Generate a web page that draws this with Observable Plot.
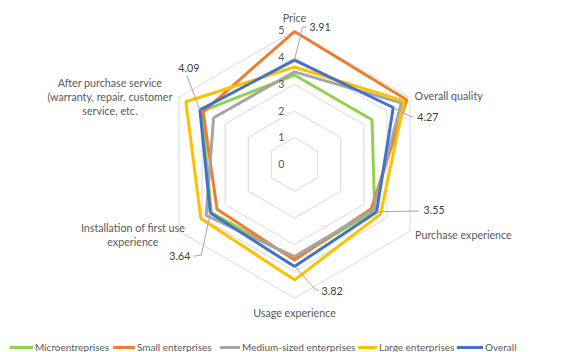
<!DOCTYPE html>
<html><head><meta charset="utf-8">
<script src="https://cdn.jsdelivr.net/npm/d3@7"></script>
<script src="https://cdn.jsdelivr.net/npm/@observablehq/plot@0.6"></script>
<style>
body{margin:0;background:#fff;font-family:Lato,"Open Sans",sans-serif;}
#chart{position:absolute;left:0;top:0;}
#legend{position:absolute;left:0;top:341px;width:586px;height:12px;font-size:10px;color:#595959;}
.item{position:absolute;top:0;display:flex;align-items:center;white-space:nowrap;line-height:12px}
.sw{display:inline-block;height:3px;margin-right:2px}
</style></head><body>
<div id="chart"></div><div id="legend"></div>
<script>
// ---- data ----
const axes = ["Price", "Overall quality", "Purchase experience", "Usage experience",
  "Installation of first use\nexperience", "After purchase service\n(warranty, repair, customer\nservice, etc."];
const seriesNames = ["Microentreprises", "Small enterprises", "Medium-sized enterprises", "Large enterprises", "Overall"];
const micro   = [3.35, 3.35, 3.47, 3.52, 3.60, 4.00];
const small   = [4.98, 4.85, 3.32, 3.58, 3.35, 3.95];
const medium  = [3.47, 4.62, 3.40, 3.45, 3.82, 3.50];
const large   = [3.65, 4.75, 3.72, 4.32, 4.05, 4.70];
const overall = [3.91, 4.27, 3.55, 3.82, 3.64, 4.09];
const ticks = [0, 1, 2, 3, 4, 5];
const colors = ["#92D050", "#ED7D31", "#A5A5A5", "#FFC000", "#4472C4"];

// ---- layout ----
const W = 586, H = 340, cx = 294, cy = 164, k = 26.7;
const n = axes.length;
const ang = i => (i / n) * 2 * Math.PI;
const px = (r, i) => r * Math.sin(ang(i));
const py = (r, i) => r * Math.cos(ang(i));
const rMax = d3.max(ticks);

const seriesVals = [micro, small, medium, large, overall];
const rows = seriesNames.flatMap((s, si) => seriesVals[si].map((v, i) => ({s, i, v})));
const rings = ticks.slice(1).flatMap(r => axes.map((a, i) => ({r, i})));

// category label placement (pixel offsets from outer vertex)
const catPos = [
  {dx: 0, dy: -13.5, anchor: "middle"},
  {dx: 4.5, dy: -2, anchor: "start"},
  {dx: 5, dy: 3.5, anchor: "start"},
  {dx: 0, dy: 14.5, anchor: "middle"},
  {dx: -46, dy: 3, anchor: "middle"},
  {dx: -69, dy: -1, anchor: "middle"}
];
// value label leader (pixel offsets from vertex of Overall series)
const leaders = [
  {pts: [[8, -33], [12, -33]], t: [15, -33], anchor: "start"},
  {pts: [[17, 9], [20, 9.5]], t: [24, 9.7], anchor: "start"},
  {pts: [[42, -1]], t: [47, -1], anchor: "start"},
  {pts: [[21, 23], [24, 24]], t: [27, 25], anchor: "start"},
  {pts: [[-9, 42], [-16, 43]], t: [-20, 43], anchor: "end"},
  {pts: [[-13, -34]], t: [-11, -41], anchor: "middle"}
];

const font = "Lato, 'Open Sans', sans-serif";
const fs = 10.7;
const marks = [];
// grid rings
marks.push(Plot.line(rings, {x: d => px(d.r, d.i), y: d => py(d.r, d.i), z: "r", curve: "linear-closed", stroke: "#D9D9D9", strokeWidth: 1}));
// series
marks.push(Plot.line(rows, {x: d => px(d.v, d.i), y: d => py(d.v, d.i), z: "s", stroke: "s", curve: "linear-closed", strokeWidth: 3, strokeLinejoin: "miter"}));
// leaders + value labels
overall.forEach((v, i) => {
  const L = leaders[i];
  const pts = [[0, 0], ...L.pts].map(([a, b]) => ({x: px(v, i) + a / k, y: py(v, i) - b / k}));
  marks.push(Plot.line(pts, {x: "x", y: "y", stroke: "#A6A6A6", strokeWidth: 1}));
  marks.push(Plot.text([v], {x: () => px(v, i) + L.t[0] / k, y: () => py(v, i) - L.t[1] / k, text: d => d.toFixed(2), textAnchor: L.anchor, fill: "#404040", fontSize: fs}));
});
// tick labels
marks.push(Plot.text(ticks, {x: 0, y: d => d, text: d => String(d), textAnchor: "end", dx: -10, fill: "#595959", fontSize: fs}));
// category labels
axes.forEach((a, i) => {
  const p = catPos[i];
  marks.push(Plot.text([a], {x: px(rMax, i), y: py(rMax, i), text: d => d, dx: p.dx, dy: p.dy, textAnchor: p.anchor, lineHeight: 1.3, fill: "#595959", fontSize: fs}));
});

const chart = Plot.plot({
  width: W, height: H,
  marginTop: 0, marginRight: 0, marginBottom: 0, marginLeft: 0,
  style: {fontFamily: font, background: "#fff", overflow: "visible"},
  x: {domain: [-cx / k, (W - cx) / k], range: [0, W], axis: null},
  y: {domain: [-(H - cy) / k, cy / k], range: [H, 0], axis: null},
  color: {domain: seriesNames, range: colors},
  marks
});
document.getElementById("chart").appendChild(chart);

// legend
const legX = [10, 113, 220, 358, 457];
const legW = [23, 22, 20, 19, 26];
const leg = document.getElementById("legend");
seriesNames.forEach((s, i) => {
  const it = document.createElement("div");
  it.className = "item";
  it.style.left = legX[i] + "px";
  it.innerHTML = `<span class="sw" style="width:${legW[i]}px;background:${colors[i]}"></span><span>${s}</span>`;
  leg.appendChild(it);
});
</script>
</body></html>
